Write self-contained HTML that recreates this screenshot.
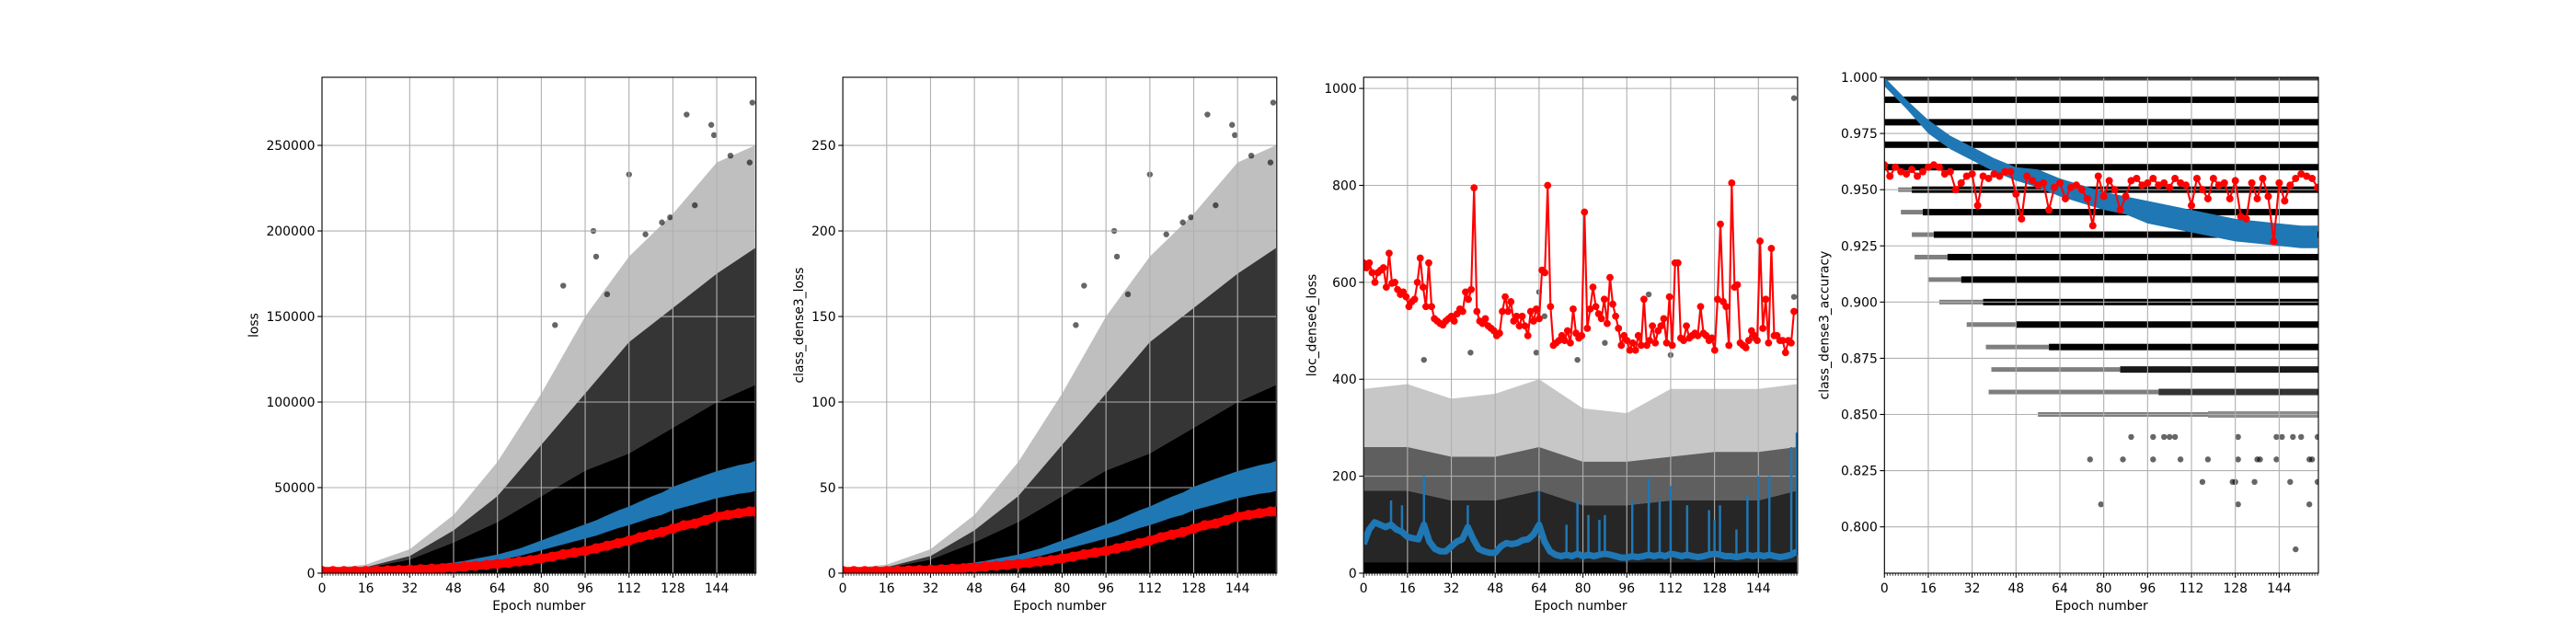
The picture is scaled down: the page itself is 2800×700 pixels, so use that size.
<!DOCTYPE html>
<html><head><meta charset="utf-8"><title>Training curves</title>
<style>
html,body{margin:0;padding:0;background:#fff;}
svg{display:block;}
text{font-family:"DejaVu Sans","Liberation Sans",sans-serif;font-size:13.9px;fill:#000;}
</style></head>
<body>
<svg id="fig" width="2800" height="700" viewBox="0 0 2800 700" xmlns="http://www.w3.org/2000/svg">
<rect width="2800" height="700" fill="#fff"/>
</svg>
<script>
// ---------- shared axis data ----------
const xTickLabels = [0,16,32,48,64,80,96,112,128,144];
const epochs4 = [0,4,8,12,16,20,24,28,32,36,40,44,48,52,56,60,64,68,72,76,80,84,88,92,96,100,104,108,112,116,120,124,128,132,136,140,144,148,152,156,158];
const epochs16 = [0,16,32,48,64,80,96,112,128,144,158];
const epochs8 = [0,8,16,24,32,40,48,56,64,72,80,88,96,104,112,120,128,136,144,152,158];

// ---------- plot 1: loss (values in thousands) ----------
const p1YTicks = [0,50000,100000,150000,200000,250000];
const p1Blue = [0.8,0.8,0.8,0.9,1.0,1.2,1.5,2,2.5,3,3.7,4.4,5.2,6,7,8,9,10.5,12,14,16,18,20,22,24,26,28.5,31,33,35.5,38,40,43,45,47,49,51,52.5,54,55,56];
const p1BlueSpread = [0.3,0.3,0.3,0.3,0.3,0.3,0.3,0.4,0.5,0.6,0.7,0.8,0.9,1,1.2,1.4,1.6,1.8,2,2.3,2.6,2.9,3.2,3.5,3.8,4.1,4.4,4.7,5,5.3,5.6,5.9,6.2,6.5,6.8,7,7.2,7.4,7.6,7.8,8];
const p1Red = [1.2,1.2,1.2,1.2,1.3,1.4,1.6,1.8,2.0,2.3,2.6,2.9,3.3,3.8,4.3,4.8,5.4,6.0,6.8,7.6,8.6,9.6,11,12,13,14.5,16,17.5,19,21,22.5,24,26,28,29,31,33,34,35,36,36];
const p1DenseTop = [1.5,3,8,18,30,45,60,70,85,100,110];
const p1MidTop = [2,3.5,10,25,45,75,105,135,155,175,190];
const p1SparseTop = [2.5,5,14,34,65,105,150,185,210,240,250];
const p1OutlierEpochs = [112,133,142,143,157,149,156,99,118,136,127,124,88,85,100,104];
const p1OutlierValues = [233,268,262,256,275,244,240,200,198,215,208,205,168,145,185,163];

// ---------- plot 2: class_dense3_loss ----------
const p2YTicks = [0,50,100,150,200,250];
const p2Blue = [0.8,0.8,0.8,0.9,1.0,1.2,1.5,2,2.5,3,3.7,4.4,5.2,6,7,8,9,10.5,12,14,16,18,20,22,24,26,28.5,31,33,35.5,38,40,43,45,47,49,51,52.5,54,55,56];
const p2BlueSpread = [0.3,0.3,0.3,0.3,0.3,0.3,0.3,0.4,0.5,0.6,0.7,0.8,0.9,1,1.2,1.4,1.6,1.8,2,2.3,2.6,2.9,3.2,3.5,3.8,4.1,4.4,4.7,5,5.3,5.6,5.9,6.2,6.5,6.8,7,7.2,7.4,7.6,7.8,8];
const p2Red = [1.2,1.2,1.2,1.2,1.3,1.4,1.6,1.8,2.0,2.3,2.6,2.9,3.3,3.8,4.3,4.8,5.4,6.0,6.8,7.6,8.6,9.6,11,12,13,14.5,16,17.5,19,21,22.5,24,26,28,29,31,33,34,35,36,36];
const p2DenseTop = [1.5,3,8,18,30,45,60,70,85,100,110];
const p2MidTop = [2,3.5,10,25,45,75,105,135,155,175,190];
const p2SparseTop = [2.5,5,14,34,65,105,150,185,210,240,250];
const p2OutlierEpochs = [112,133,142,143,157,149,156,99,118,136,127,124,88,85,100,104];
const p2OutlierValues = [233,268,262,256,275,244,240,200,198,215,208,205,168,145,185,163];

// ---------- plot 3: loc_dense6_loss ----------
const p3YTicks = [0,200,400,600,800,1000];
const p3Red = [640,630,640,620,600,620,625,630,590,660,598,600,585,575,580,570,550,560,565,600,650,590,550,640,550,525,520,515,512,520,525,530,520,535,545,540,580,565,585,795,540,520,515,525,510,505,500,490,495,540,570,540,560,520,530,510,530,510,490,540,520,545,525,625,620,800,550,470,475,480,490,480,500,475,545,495,485,490,745,505,545,590,550,535,525,565,515,610,555,530,505,470,490,480,460,475,460,490,470,565,470,480,510,475,500,510,525,475,570,470,640,640,485,480,510,485,490,495,490,550,495,490,480,485,460,565,720,560,550,470,805,590,595,475,470,465,480,500,490,480,685,505,565,475,670,490,490,480,480,455,480,475,540];
const p3BlueBase = [60,90,105,100,95,100,90,85,75,72,70,100,65,50,45,45,55,65,70,95,70,50,45,42,42,55,62,60,62,68,70,80,100,65,45,38,35,38,35,40,35,38,35,38,40,38,35,32,32,35,33,35,38,35,38,35,40,38,35,38,35,33,35,38,40,38,35,35,33,35,38,35,38,35,38,35,33,35,38,45];
const p3SpikeEpochs = [10,14,22,38,64,74,78,82,86,88,98,104,108,112,118,126,128,130,136,140,144,148,156,158];
const p3SpikeValues = [150,140,200,140,170,100,150,120,110,120,150,195,150,180,140,130,110,140,90,160,200,200,260,290];
const p3DenseTop = [170,170,150,150,170,140,140,150,150,150,170];
const p3MidTop = [260,260,240,240,260,230,230,240,250,250,260];
const p3SparseTop = [380,390,360,370,400,340,330,380,380,380,390];
const p3OutlierEpochs = [104,157,157,39,22,63,78,88,64,66,142,112];
const p3OutlierValues = [575,980,570,455,440,455,440,475,580,530,485,450];

// ---------- plot 4: class_dense3_accuracy ----------
const p4YTicks = [0.800,0.825,0.850,0.875,0.900,0.925,0.950,0.975,1.000];
const p4Blue = [0.998,0.988,0.978,0.971,0.966,0.961,0.957,0.955,0.951,0.948,0.945,0.943,0.940,0.938,0.936,0.934,0.932,0.931,0.930,0.929,0.929];
const p4BlueSpread = [0.002,0.002,0.003,0.003,0.003,0.003,0.003,0.004,0.004,0.004,0.004,0.004,0.005,0.005,0.005,0.005,0.005,0.005,0.005,0.005,0.005];
const p4Red = [0.961,0.956,0.960,0.958,0.957,0.959,0.956,0.958,0.960,0.961,0.960,0.957,0.958,0.950,0.953,0.956,0.957,0.943,0.956,0.955,0.957,0.956,0.958,0.958,0.948,0.937,0.956,0.954,0.952,0.953,0.941,0.951,0.953,0.946,0.951,0.952,0.950,0.946,0.934,0.956,0.947,0.954,0.950,0.941,0.947,0.954,0.955,0.952,0.953,0.955,0.952,0.953,0.951,0.955,0.953,0.952,0.943,0.955,0.950,0.946,0.955,0.952,0.953,0.946,0.954,0.938,0.937,0.953,0.946,0.955,0.947,0.927,0.953,0.945,0.952,0.955,0.957,0.956,0.955,0.951];
const p4RowLevels = [1.00,0.99,0.98,0.97,0.96,0.95,0.94,0.93,0.92,0.91,0.90,0.89,0.88,0.87,0.86,0.85];
const p4RowSparseStart = [0,0,0,0,0,5,6,10,11,16,20,30,37,39,38,56];
const p4RowDenseStart = [0,0,0,0,0,10,14,18,23,28,36,48,60,86,100,118];
const p4RowDenseOpacity = [0.75,1,1,1,1,1,1,1,1,1,1,1,1,0.9,0.8,0.45];
const p4PointEpochs = [90,98,102,104,106,129,143,145,149,152,158,75,87,98,108,118,129,136,137,143,155,156,116,127,128,135,148,158,79,129,155,150];
const p4PointValues = [0.84,0.84,0.84,0.84,0.84,0.84,0.84,0.84,0.84,0.84,0.84,0.83,0.83,0.83,0.83,0.83,0.83,0.83,0.83,0.83,0.83,0.83,0.82,0.82,0.82,0.82,0.82,0.82,0.81,0.81,0.81,0.79];

// ---------- rendering ----------
const NS = "http://www.w3.org/2000/svg";
const fig = document.getElementById("fig");
const XMAX = 158.3;
const BLUE = "#1f77b4", RED = "#ff0000";

function el(tag, attrs, parent){
  const e = document.createElementNS(NS, tag);
  for (const k in attrs) e.setAttribute(k, attrs[k]);
  parent.appendChild(e);
  return e;
}
function makeAxis(left, ymin, ymax){
  return {left:left, w:471.7, top:84, bottom:623, ymin:ymin, ymax:ymax};
}
function sx(ax, e){ return ax.left + e / XMAX * ax.w; }
function sy(ax, v){ return ax.bottom - (v - ax.ymin) / (ax.ymax - ax.ymin) * (ax.bottom - ax.top); }

function band(ax, g, xs, lo, hi, scale, fill, op, name){
  let pts = [];
  for (let i = 0; i < xs.length; i++) pts.push(sx(ax, xs[i]) + "," + sy(ax, hi[i] * scale));
  for (let i = xs.length - 1; i >= 0; i--) pts.push(sx(ax, xs[i]) + "," + sy(ax, lo[i] * scale));
  const p = el("polygon", {points: pts.join(" "), fill: fill, "fill-opacity": op}, g);
  
  
  return p;
}
function line(ax, g, xs, ys, scale, color, width, name){
  const pts = xs.map((x, i) => sx(ax, x) + "," + sy(ax, ys[i] * scale)).join(" ");
  const p = el("polyline", {points: pts, fill: "none", stroke: color, "stroke-width": width, "stroke-linejoin": "round"}, g);
  
  
  return p;
}
function markers(ax, g, xs, ys, scale, color, r, op, name){
  for (let i = 0; i < xs.length; i++){
    const c = el("circle", {cx: sx(ax, xs[i]), cy: sy(ax, ys[i] * scale), r: r, fill: color, "fill-opacity": op}, g);
    
    
  }
}
function frame(ax, idx, yTicks, fmt, ylabel){
  const g = el("g", {}, fig);
  
  
  const cp = el("clipPath", {id: "clip" + idx}, g);
  el("rect", {x: ax.left, y: ax.top, width: ax.w, height: ax.bottom - ax.top}, cp);
  const data = el("g", {"clip-path": "url(#clip" + idx + ")"}, g);
  
  
  const scat = el("g", {}, data);
  
  
  const grid = el("g", {stroke: "#b0b0b0", "stroke-width": 1.1}, data);
  
  
  const lines = el("g", {}, data);
  
  
  const axg = el("g", {}, g);
  
  
  xTickLabels.forEach(t => {
    const x = sx(ax, t);
    el("line", {x1: x, x2: x, y1: ax.top, y2: ax.bottom}, grid);
    el("line", {x1: x, x2: x, y1: ax.bottom, y2: ax.bottom + 4.9, stroke: "#000", "stroke-width": 1.1}, axg);
    const tx = el("text", {x: x, y: ax.bottom + 21, "text-anchor": "middle"}, axg);
    tx.textContent = t;
    
    
  });
  for (let e = 1; e < XMAX; e++){
    if (e % 16 === 0) continue;
    const x = sx(ax, e);
    el("line", {x1: x, x2: x, y1: ax.bottom, y2: ax.bottom + 2.8, stroke: "#000", "stroke-width": 0.8}, axg);
  }
  yTicks.forEach(t => {
    const y = sy(ax, t);
    el("line", {x1: ax.left, x2: ax.left + ax.w, y1: y, y2: y}, grid);
    el("line", {x1: ax.left - 4.9, x2: ax.left, y1: y, y2: y, stroke: "#000", "stroke-width": 1.1}, axg);
    const tx = el("text", {x: ax.left - 7.5, y: y + 5, "text-anchor": "end"}, axg);
    tx.textContent = fmt(t);
    
    
  });
  const sp = el("rect", {x: ax.left, y: ax.top, width: ax.w, height: ax.bottom - ax.top, fill: "none", stroke: "#000", "stroke-width": 1.1}, axg);
  
  
  const xl = el("text", {x: ax.left + ax.w / 2, y: ax.bottom + 40, "text-anchor": "middle"}, axg);
  xl.textContent = "Epoch number";
  
  
  const maxLen = Math.max(...yTicks.map(t => fmt(t).length));
  const lx = ax.left - 7.5 - maxLen * 8.85 - 9;
  const yc = (ax.top + ax.bottom) / 2;
  const yl = el("text", {x: lx, y: yc, "text-anchor": "middle", transform: "rotate(-90 " + lx + " " + yc + ")"}, axg);
  yl.textContent = ylabel;
  
  
  return {scat: scat, lines: lines};
}

function lossPlot(idx, left, ymax, scale, yTicks, fmt, ylabel, blue, spread, red, dense, mid, sparse, oe, ov){
  const ax = makeAxis(left, 0, ymax);
  const f = frame(ax, idx, yTicks, fmt, ylabel);
  const zeros = epochs16.map(() => 0);
  band(ax, f.scat, epochs16, dense, sparse, scale, "#000", 0.25, 'scatter-sparse-region');
  band(ax, f.scat, epochs16, dense, mid, scale, "#000", 0.72, 'scatter-medium-region');
  band(ax, f.scat, epochs16, zeros, dense, scale, "#000", 1, 'scatter-dense-region');
  markers(ax, f.scat, oe, ov, scale, "#000", 3.2, 0.6, 'scatter-outlier');
  const lo = blue.map((v, i) => v - spread[i]);
  const hi = blue.map((v, i) => v + spread[i] * 1.2);
  band(ax, f.lines, epochs4, lo, hi, scale, BLUE, 1, 'train-loss-band');
  line(ax, f.lines, epochs4, blue, scale, BLUE, 2, 'train-loss-line');
  line(ax, f.lines, epochs4, red, scale, RED, 9, 'val-loss-line');
  markers(ax, f.lines, epochs4, red, scale, RED, 5.5, 1, 'val-loss-marker');
}

lossPlot(1, 350, 289800, 1000, p1YTicks, t => String(t), "loss", p1Blue, p1BlueSpread, p1Red, p1DenseTop, p1MidTop, p1SparseTop, p1OutlierEpochs, p1OutlierValues);
lossPlot(2, 916.1, 289.8, 1, p2YTicks, t => String(t), "class_dense3_loss", p2Blue, p2BlueSpread, p2Red, p2DenseTop, p2MidTop, p2SparseTop, p2OutlierEpochs, p2OutlierValues);

// plot 3
(function(){
  const ax = makeAxis(1482.2, 0, 1023);
  const f = frame(ax, 3, p3YTicks, t => String(t), "loc_dense6_loss");
  const zeros = epochs16.map(() => 0);
  const strip = epochs16.map(() => 22);
  band(ax, f.scat, epochs16, p3DenseTop, p3SparseTop, 1, "#000", 0.22, 'scatter-sparse-region');
  band(ax, f.scat, epochs16, p3DenseTop, p3MidTop, 1, "#000", 0.52, 'scatter-medium-region');
  band(ax, f.scat, epochs16, zeros, p3DenseTop, 1, "#000", 0.85, 'scatter-dense-region');
  band(ax, f.scat, epochs16, zeros, strip, 1, "#000", 1, 'scatter-floor-region');
  markers(ax, f.scat, p3OutlierEpochs, p3OutlierValues, 1, "#000", 3.2, 0.6, 'scatter-outlier');
  const bx = p3BlueBase.map((v, i) => i * 2);
  line(ax, f.lines, bx, p3BlueBase, 1, BLUE, 7, 'train-loss-line');
  p3SpikeEpochs.forEach((e, i) => {
    const k = Math.min(p3BlueBase.length - 1, Math.round(e / 2));
    const s = el("line", {x1: sx(ax, e), x2: sx(ax, e), y1: sy(ax, p3BlueBase[k]), y2: sy(ax, p3SpikeValues[i]), stroke: BLUE, "stroke-width": 2.5}, f.lines);
    
    
  });
  const rx = p3Red.map((v, i) => i * 157 / (p3Red.length - 1));
  line(ax, f.lines, rx, p3Red, 1, RED, 2.1, 'val-loss-line');
  markers(ax, f.lines, rx, p3Red, 1, RED, 3.9, 1, 'val-loss-marker');
})();

// plot 4
(function(){
  const ax = makeAxis(2048.3, 0.7794, 1.0);
  const f = frame(ax, 4, p4YTicks, t => t.toFixed(3), "class_dense3_accuracy");
  p4RowLevels.forEach((lv, i) => {
    const y = sy(ax, lv);
    const a = sx(ax, p4RowSparseStart[i]), b = sx(ax, p4RowDenseStart[i]), c = sx(ax, XMAX);
    if (b > a){
      const r1 = el("rect", {x: a, y: y - 2.5, width: b - a, height: 5, fill: "#000", "fill-opacity": 0.5}, f.scat);
      
      
    }
    const r2 = el("rect", {x: b, y: y - 3.5, width: c - b, height: 7, fill: "#000", "fill-opacity": p4RowDenseOpacity[i]}, f.scat);
    
    
  });
  markers(ax, f.scat, p4PointEpochs, p4PointValues, 1, "#000", 3.2, 0.6, 'accuracy-outlier');
  const lo = p4Blue.map((v, i) => v - p4BlueSpread[i]);
  const hi = p4Blue.map((v, i) => v + p4BlueSpread[i]);
  band(ax, f.lines, epochs8, lo, hi, 1, BLUE, 1, 'train-accuracy-band');
  line(ax, f.lines, epochs8, p4Blue, 1, BLUE, 2, 'train-accuracy-line');
  const rx = p4Red.map((v, i) => i * 2);
  line(ax, f.lines, rx, p4Red, 1, RED, 2.1, 'val-accuracy-line');
  markers(ax, f.lines, rx, p4Red, 1, RED, 4, 1, 'val-accuracy-marker');
})();
</script>
</body></html>
